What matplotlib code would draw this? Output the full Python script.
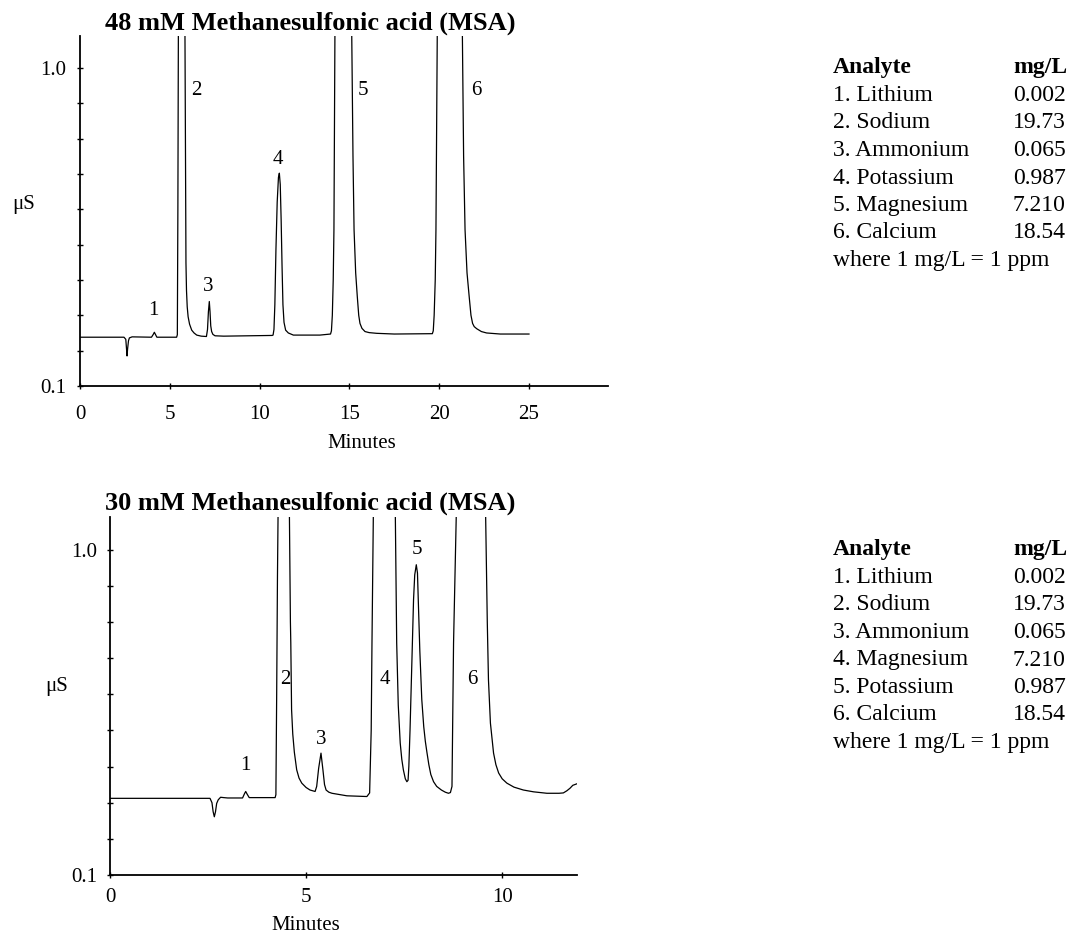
#!/usr/bin/env python3
"""Cation chromatograms at two MSA eluent strengths, with analyte tables."""
import matplotlib
matplotlib.use('Agg')
import matplotlib.pyplot as plt
from matplotlib.ticker import FixedLocator, NullFormatter

plt.rcParams['font.family'] = ['Liberation Serif', 'DejaVu Serif']

W, H = 1070, 935

# 48 mM MSA trace: retention time (min) and conductivity (uS); peaks 2, 5, 6 run off scale
T48 = [0.0, 2.45, 2.55, 2.59, 2.62, 2.65, 2.7, 2.75, 2.9, 3.98, 4.08, 4.14,
       4.2, 4.28, 5.38, 5.42, 5.45, 5.48, 5.66, 5.84, 5.87, 5.9, 5.93, 5.97,
       6.02, 6.1, 6.22, 6.35, 6.5, 6.75, 7.04, 7.1, 7.15, 7.2, 7.24, 7.28,
       7.33, 7.4, 7.52, 8.0, 10.7, 10.75, 10.8, 10.85, 10.91, 10.98, 11.05,
       11.1, 11.15, 11.2, 11.25, 11.3, 11.36, 11.45, 11.6, 11.88, 13.36, 13.95,
       14.0, 14.05, 14.1, 14.14, 14.2, 14.6, 15.12, 15.2, 15.26, 15.35, 15.44,
       15.52, 15.59, 15.7, 15.87, 16.1, 16.52, 17.5, 19.62, 19.67, 19.72,
       19.78, 19.82, 19.9, 20.6, 21.28, 21.36, 21.44, 21.55, 21.67, 21.77,
       21.86, 21.95, 22.09, 22.35, 22.64, 23.4, 25.0]
Y48 = [0.238, 0.238, 0.232, 0.205, 0.185, 0.205, 0.228, 0.236, 0.239, 0.238,
       0.246, 0.252, 0.246, 0.238, 0.238, 0.245, 0.6, 1.15, 3.0, 1.15, 0.8,
       0.448, 0.37, 0.324, 0.296, 0.275, 0.258, 0.25, 0.244, 0.241, 0.240,
       0.26, 0.31, 0.339, 0.31, 0.27, 0.254, 0.246, 0.242, 0.241, 0.243, 0.244,
       0.26, 0.33, 0.485, 0.62, 0.69, 0.702, 0.67, 0.57, 0.44, 0.33, 0.28,
       0.258, 0.25, 0.244, 0.244, 0.247, 0.256, 0.3, 0.4, 0.542, 1.15, 4.0,
       1.15, 0.75, 0.542, 0.42, 0.353, 0.3, 0.277, 0.263, 0.254, 0.251, 0.249,
       0.247, 0.248, 0.256, 0.3, 0.4, 0.542, 1.15, 4.0, 1.15, 0.75, 0.542,
       0.42, 0.353, 0.3, 0.277, 0.268, 0.262, 0.254, 0.25, 0.247, 0.247]

# 30 mM MSA trace
T30 = [0.0, 2.55, 2.6, 2.63, 2.66, 2.69, 2.72, 2.76, 2.82, 2.9, 3.0, 3.38,
       3.43, 3.46, 3.5, 3.55, 4.21, 4.23, 4.25, 4.27, 4.29, 4.42, 4.57, 4.6,
       4.61, 4.63, 4.66, 4.7, 4.76, 4.82, 4.89, 5.0, 5.1, 5.23, 5.27, 5.32,
       5.38, 5.43, 5.47, 5.51, 5.58, 5.66, 6.04, 6.55, 6.62, 6.66, 6.68, 6.72,
       7.0, 7.27, 7.31, 7.35, 7.40, 7.44, 7.48, 7.53, 7.57, 7.6, 7.62, 7.65,
       7.7, 7.74, 7.77, 7.81, 7.84, 7.86, 7.9, 7.95, 8.0, 8.04, 8.08, 8.13,
       8.18, 8.25, 8.33, 8.45, 8.55, 8.63, 8.68, 8.72, 8.76, 8.84, 9.2, 9.57,
       9.62, 9.65, 9.7, 9.78, 9.84, 9.91, 10.0, 10.12, 10.3, 10.54, 10.8,
       11.14, 11.45, 11.56, 11.65, 11.73, 11.8, 11.9]
Y30 = [0.312, 0.312, 0.3, 0.275, 0.261, 0.275, 0.298, 0.308, 0.315, 0.314,
       0.313, 0.313, 0.325, 0.331, 0.323, 0.314, 0.314, 0.322, 0.6, 0.926,
       1.15, 3.0, 1.15, 0.8, 0.742, 0.557, 0.49, 0.44, 0.391, 0.368, 0.354,
       0.342, 0.335, 0.331, 0.345, 0.395, 0.437, 0.39, 0.35, 0.335, 0.329,
       0.326, 0.319, 0.317, 0.327, 0.5, 0.742, 1.15, 3.0, 1.15, 0.742, 0.57,
       0.465, 0.42, 0.391, 0.366, 0.358, 0.362, 0.4, 0.5, 0.7, 0.862, 0.93,
       0.958, 0.935, 0.862, 0.72, 0.585, 0.51, 0.47, 0.44, 0.405, 0.378,
       0.358, 0.345, 0.335, 0.329, 0.326, 0.328, 0.345, 0.742, 1.15, 3.0,
       1.15, 0.8, 0.64, 0.52, 0.437, 0.405, 0.382, 0.366, 0.354, 0.343, 0.335,
       0.33, 0.326, 0.326, 0.327, 0.333, 0.34, 0.348, 0.352]

# peak number labels (time, height)
PEAK_IDS = ['1', '2', '3', '4', '5', '6']
LABEL_T48 = [4.08, 6.5, 7.14, 11.04, 15.78, 22.09]
LABEL_Y48 = [0.313, 0.936, 0.381, 0.74, 0.936, 0.936]
LABEL_T30 = [3.44, 4.46, 5.38, 7.02, 7.82, 9.25]
LABEL_Y30 = [0.403, 0.64, 0.474, 0.64, 1.0, 0.64]

ANALYTES_48 = ['Lithium', 'Sodium', 'Ammonium', 'Potassium', 'Magnesium', 'Calcium']
CONC_48 = ['0.002', '19.73', '0.065', '0.987', '7.210', '18.54']
ANALYTES_30 = ['Lithium', 'Sodium', 'Ammonium', 'Magnesium', 'Potassium', 'Calcium']
CONC_30 = ['0.002', '19.73', '0.065', '7.210', '0.987', '18.54']

TITLE_48 = '48 mM Methanesulfonic acid (MSA)'
TITLE_30 = '30 mM Methanesulfonic acid (MSA)'

FS = 15
FS_TABLE = 17
FS_TITLE = 19


def _px_axes(fig, left, top, right, bottom):
    return fig.add_axes([left / W, 1 - bottom / H, (right - left) / W, (bottom - top) / H])


def _chromatogram(ax, t, y, xmax, xticks, lab_t, lab_y, xpad, ypad):
    ax.plot(t, y, color='black', lw=0.9, solid_joinstyle='round')
    for name, lt, ly in zip(PEAK_IDS, lab_t, lab_y):
        ax.text(lt, ly, name, ha='center', va='center', fontsize=FS)
    ax.set_xlim(0, xmax)
    ax.set_ylim(0.1, 1.09)
    ax.set_xticks(xticks)
    ax.set_yticks([0.1, 1.0])
    ax.set_yticklabels(['0.1', '1.0'])
    ax.yaxis.set_minor_locator(FixedLocator([0.2, 0.3, 0.4, 0.5, 0.6, 0.7, 0.8, 0.9]))
    ax.yaxis.set_minor_formatter(NullFormatter())
    ax.tick_params(axis='x', direction='inout', length=5, width=1.0,
                   labelsize=FS, pad=xpad)
    ax.tick_params(axis='y', which='both', direction='inout', length=4,
                   width=1.0, labelsize=FS, pad=ypad)
    for side in ('top', 'right'):
        ax.spines[side].set_visible(False)
    for side in ('left', 'bottom'):
        ax.spines[side].set_linewidth(1.3)
    ax.patch.set_visible(False)


def _table(fig, analytes, conc, top_base):
    x_name, x_val = 833 / W, 1013 / W
    step = 27.5
    fig.text(x_name, 1 - top_base / H, 'Analyte', fontsize=FS_TABLE,
             fontweight='bold', va='baseline')
    fig.text(x_val, 1 - top_base / H, 'mg/L', fontsize=FS_TABLE,
             fontweight='bold', va='baseline')
    for k, (name, val) in enumerate(zip(analytes, conc), start=1):
        yb = 1 - (top_base + k * step) / H
        fig.text(x_name, yb, f'{k}. {name}', fontsize=FS_TABLE, va='baseline')
        fig.text(x_val, yb, val, fontsize=FS_TABLE, va='baseline')
    yb = 1 - (top_base + 7 * step) / H
    fig.text(x_name, yb, 'where 1 mg/L = 1 ppm', fontsize=FS_TABLE, va='baseline')


def main():
    fig = plt.figure(figsize=(W / 100, H / 100), dpi=100)

    ax1 = _px_axes(fig, 80, 36, 608, 386)
    _chromatogram(ax1, T48, Y48, 29.4, [0, 5, 10, 15, 20, 25],
                  LABEL_T48, LABEL_Y48, xpad=11, ypad=8)
    fig.text(105 / W, 1 - 23 / H, TITLE_48, fontsize=FS_TITLE,
             fontweight='bold', ha='left', va='center')
    fig.text(24 / W, 1 - 205 / H, '\u03bcS', fontsize=FS, ha='center', va='center')
    fig.text(362 / W, 1 - 443 / H, 'Minutes', fontsize=FS, ha='center', va='center')
    _table(fig, ANALYTES_48, CONC_48, 73.5)

    ax2 = _px_axes(fig, 110, 517, 576.7, 875)
    _chromatogram(ax2, T30, Y30, 11.9, [0, 5, 10],
                  LABEL_T30, LABEL_Y30, xpad=7, ypad=7)
    fig.text(105 / W, 1 - 503 / H, TITLE_30, fontsize=FS_TITLE,
             fontweight='bold', ha='left', va='center')
    fig.text(57 / W, 1 - 687 / H, '\u03bcS', fontsize=FS, ha='center', va='center')
    fig.text(306 / W, 1 - 925 / H, 'Minutes', fontsize=FS, ha='center', va='center')
    _table(fig, ANALYTES_30, CONC_30, 73.5 + 482)

    fig.savefig('out.png', dpi=100)
    plt.close(fig)


if __name__ == '__main__':
    main()
